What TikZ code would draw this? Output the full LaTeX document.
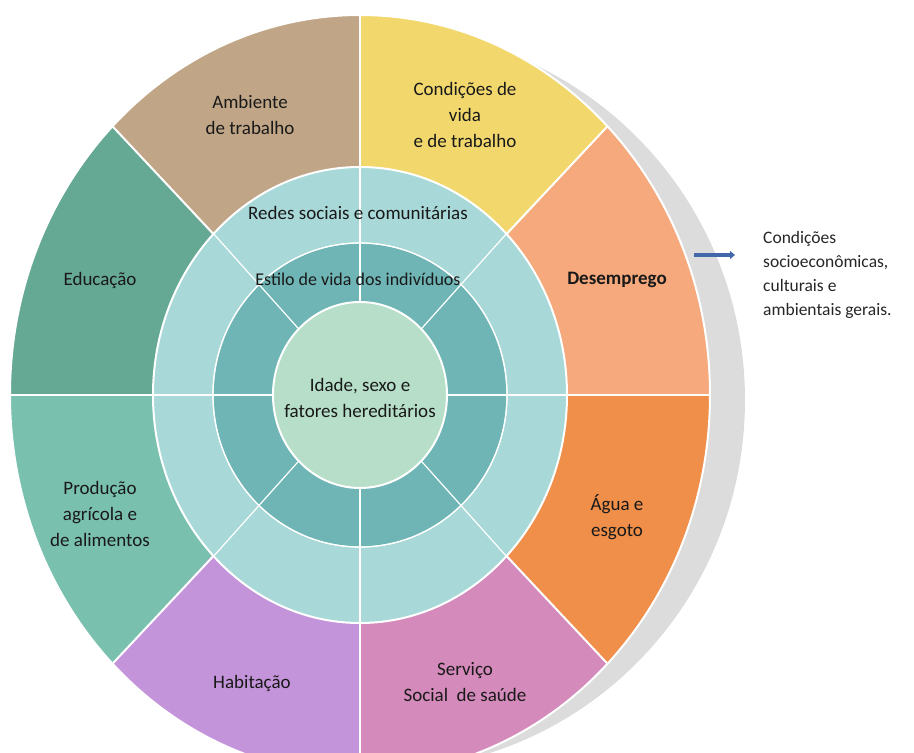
\documentclass[tikz,border=0pt]{standalone}
\usepackage{fontspec}
\setmainfont{Carlito}
\usepackage{tikz}
\usetikzlibrary{arrows.meta,positioning}

\definecolor{ambiente}{HTML}{C0A686}
\definecolor{condicoes}{HTML}{F2D86C}
\definecolor{desemprego}{HTML}{F5A97C}
\definecolor{agua}{HTML}{F08F4A}
\definecolor{servico}{HTML}{D48ABA}
\definecolor{habitacao}{HTML}{C494DA}
\definecolor{producao}{HTML}{79C0AE}
\definecolor{educacao}{HTML}{65A894}
\definecolor{redes}{HTML}{A8D8D8}
\definecolor{estilo}{HTML}{6FB5B5}
\definecolor{idade}{HTML}{B6DEC8}
\definecolor{fundo}{HTML}{DCDCDC}
\definecolor{seta}{HTML}{4466AA}

\begin{document}
\begin{tikzpicture}
  [
    x=1pt, y=1pt,
    Label/.style={align=center, inner sep=0pt, text=black!90, font=\fontsize{19}{26}\selectfont},
    Note/.style={align=left, inner sep=0pt, text=black!85, font=\fontsize{17.5}{24}\selectfont},
    Sep/.style={draw=white, line width=2pt},
    Thin/.style={draw=white, line width=1.2pt}
  ]
  \useasboundingbox (-360,-358) rectangle (554,395);

  % Back ring
  \fill[fundo] (20,-5) ellipse [x radius=365, y radius=370];

  % Outer ring
  \foreach \a/\c in {0/desemprego, 45/condicoes, 90/ambiente, 135/educacao,
                     180/producao, 225/habitacao, 270/servico, 315/agua}
    \fill[\c] (0,0) -- (\a:350 and 380)
      arc[start angle=\a, end angle=\a+45, x radius=350, y radius=380] -- cycle;
  \draw[Sep] (0,0) ellipse [x radius=350, y radius=380];
  \foreach \a in {0,45,...,315}
    \draw[Sep] (\a:200 and 220) -- (\a:350 and 380);

  % Inner rings
  \draw[Sep, fill=redes] (0,0) ellipse [x radius=207, y radius=228];
  \draw[Thin, fill=estilo] (0,0) ellipse [x radius=147, y radius=152];
  \foreach \a in {0,45,...,315}
    \draw[Thin] (\a:80 and 86) -- (\a:207 and 228);
  \draw[Thin] (0,0) ellipse [x radius=147, y radius=152];
  \draw[Sep, fill=idade] (0,0) ellipse [x radius=87, y radius=93];

  % Nodes
  \node[Label] (ambiente) at (-110, 280) {Ambiente\\de trabalho};
  \node[Label] (condicoes) at (105, 280) {Condições de\\vida\\e de trabalho};
  \node[Label] (educacao) at (-260, 115) {Educação};
  \node[Label, font=\fontsize{19}{26}\selectfont\bfseries] (desemprego) at (257, 115) {Desemprego};
  \node[Label] (redes) at (-2, 182) {Redes sociais e comunitárias};
  \node[Label, font=\fontsize{18}{26}\selectfont] (estilo) at (-2, 116) {Estilo de vida dos indivíduos};
  \node[Label] (idade) at (0, -3) {Idade, sexo e\\fatores hereditários};
  \node[Label] (producao) at (-260, -119) {Produção\\agrícola e\\de alimentos};
  \node[Label] (agua) at (257, -122) {Água e\\esgoto};
  \node[Label] (habitacao) at (-108, -288) {Habitação};
  \node[Label] (servico) at (105, -287) {Serviço\\Social\ \ de saúde};
  \node[Note, anchor=north west] (nota) at (403, 164)
    {Condições\\socioeconômicas,\\culturais e\\ambientais gerais.};

  % Arrow
  \coordinate (setaA) at (334, 140);
  \coordinate (setaB) at (375, 140);
  \draw[-{Triangle[length=5pt, width=8pt]}, seta, line width=4.5pt] (setaA) -- (setaB);

\end{tikzpicture}
\end{document}
